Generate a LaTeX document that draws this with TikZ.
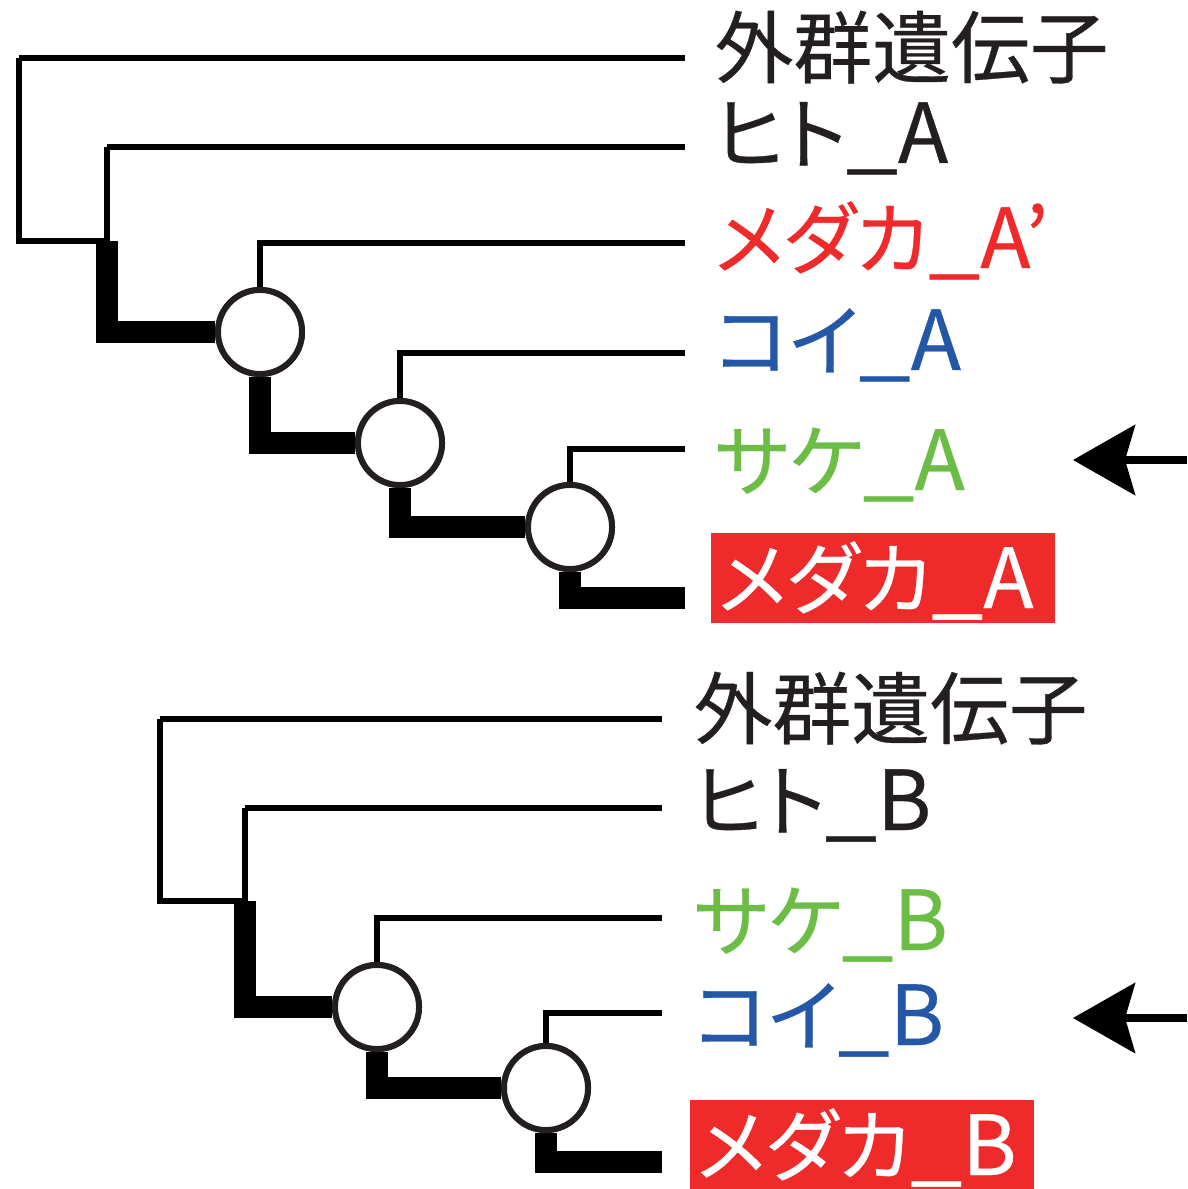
\documentclass[tikz,border=0pt]{standalone}
\usepackage{fontspec}
\usepackage{graphicx}
\newfontfamily\jp{Noto Sans CJK JP}[RawFeature=+palt, FakeBold=0.4]
\newfontfamily\jplat{Noto Sans CJK JP}[Scale=1.05, FakeBold=0.4]
\usepackage{tikz}
\usetikzlibrary{arrows.meta,positioning}
\usepackage{xcolor}

\definecolor{inkblack}{HTML}{231F20}
\definecolor{medakared}{HTML}{EE2A2A}
\definecolor{koiblue}{HTML}{2457A6}
\definecolor{sakegreen}{HTML}{6CBD45}

% gene suffix: underscore and copy letter
\newcommand{\genesuffix}[1]{{\jplat\scalebox{1.12}[1]{\_}#1}}

\begin{document}
\begin{tikzpicture}[x=0.01cm, y=-0.01cm,
  branch/.style={line width=1.5pt, black},
  thickbranch/.style={line width=6.3pt, black, line join=miter},
  dup/.style={circle, draw=inkblack, fill=white, line width=1.7pt, minimum size=0.84cm, inner sep=0pt},
  gene/.style={anchor=base west, inner sep=0pt, text=inkblack, font=\jp\fontsize{22.4pt}{26pt}\selectfont},
  focus/.style={gene, fill=medakared, text=white, inner xsep=0.07cm, text width=3.3cm, align=left, text height=0.75cm, text depth=0.15cm},
  pointer/.style={line width=2pt, -{Stealth[length=0.62cm, width=0.7cm, inset=0.1cm]}}]
\useasboundingbox (0,0) rectangle (1187,1189);

% upper tree (A genes)
\coordinate (A0) at (19,241);
\coordinate (A1) at (107,241);
\coordinate (Aout) at (685,58);
\coordinate (Ahit) at (685,147);
\coordinate (Amedp) at (685,243);
\coordinate (Akoi) at (685,353);
\coordinate (Asake) at (685,449);
\coordinate (Amed) at (685,598);
\node [dup] (Ad1) at (260,332) {};
\node [dup] (Ad2) at (400,443) {};
\node [dup] (Ad3) at (570,527) {};

\draw [branch] (A0 |- Aout) -- (Aout);
\draw [branch] (A0 |- Aout) -- (A0) -- (A1);
\draw [branch] (A1 |- Ahit) -- (Ahit);
\draw [branch] (A1 |- Ahit) -- (A1);
\draw [branch] (Ad1.north) |- (Amedp);
\draw [branch] (Ad2.north) |- (Akoi);
\draw [branch] (Ad3.north) |- (Asake);
\draw [thickbranch] (A1) |- (Ad1.west);
\draw [thickbranch] (Ad1.south) |- (Ad2.west);
\draw [thickbranch] (Ad2.south) |- (Ad3.west);
\draw [thickbranch] (Ad3.south) |- (Amed);
\node [dup] at (Ad1) {};
\node [dup] at (Ad2) {};
\node [dup] at (Ad3) {};

\node [gene] (Lout) at (714,77) {外群遺伝子};
\node [gene] (Lhit) at (714,163) {ヒト\genesuffix{A}};
\node [gene, text=medakared] (Lmedp) at (714,268) {メダカ\genesuffix{A’}};
\node [gene, text=koiblue] (Lkoi) at (714,370) {コイ\genesuffix{A}};
\node [gene, text=sakegreen] (Lsake) at (714,490) {サケ\genesuffix{A}};
\node [focus] (Lmed) at (710,608) {メダカ\genesuffix{A}};

\coordinate (Aarr) at (1187,460);
\coordinate (Atip) at (1073,460);
\draw [pointer] (Aarr) -- (Atip);

% lower tree (B genes)
\coordinate (B0) at (160,901);
\coordinate (B1) at (245,901);
\coordinate (Bout) at (662,719);
\coordinate (Bhit) at (662,808);
\coordinate (Bsake) at (662,918);
\coordinate (Bkoi) at (662,1013);
\coordinate (Bmed) at (662,1162);
\node [dup] (Bd1) at (377,1007) {};
\node [dup] (Bd2) at (546,1088) {};

\draw [branch] (B0 |- Bout) -- (Bout);
\draw [branch] (B0 |- Bout) -- (B0) -- (B1);
\draw [branch] (B1 |- Bhit) -- (Bhit);
\draw [branch] (B1 |- Bhit) -- (B1);
\draw [branch] (Bd1.north) |- (Bsake);
\draw [branch] (Bd2.north) |- (Bkoi);
\draw [thickbranch] (B1) |- (Bd1.west);
\draw [thickbranch] (Bd1.south) |- (Bd2.west);
\draw [thickbranch] (Bd2.south) |- (Bmed);
\node [dup] at (Bd1) {};
\node [dup] at (Bd2) {};

\node [gene] (Mout) at (693,738) {外群遺伝子};
\node [gene] (Mhit) at (693,830) {ヒト\genesuffix{B}};
\node [gene, text=sakegreen] (Msake) at (693,950) {サケ\genesuffix{B}};
\node [gene, text=koiblue] (Mkoi) at (693,1045) {コイ\genesuffix{B}};
\node [focus] (Mmed) at (689,1175) {メダカ\genesuffix{B}};

\coordinate (Barr) at (1187,1018);
\coordinate (Btip) at (1073,1018);
\draw [pointer] (Barr) -- (Btip);
\end{tikzpicture}
\end{document}
